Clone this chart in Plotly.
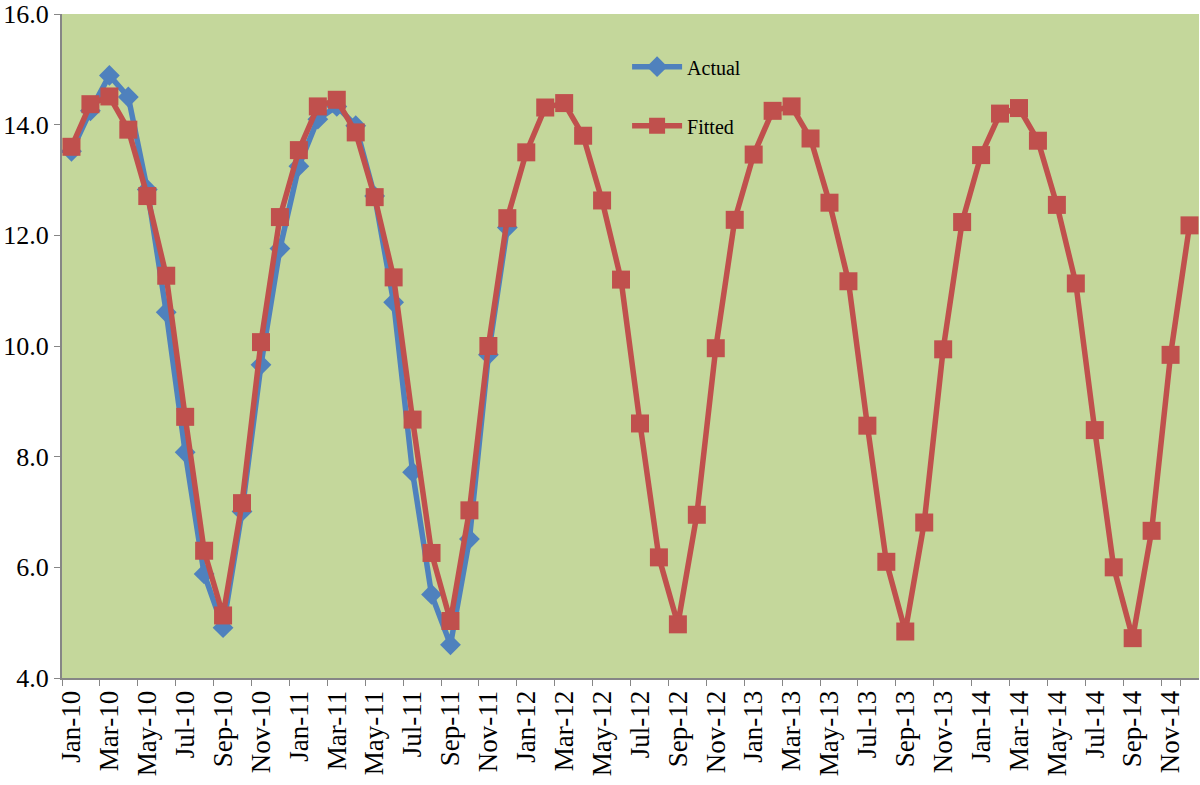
import plotly.graph_objects as go

# Months Jan-10 .. Dec-14
MONTHS = ['Jan', 'Feb', 'Mar', 'Apr', 'May', 'Jun',
          'Jul', 'Aug', 'Sep', 'Oct', 'Nov', 'Dec']
YEARS = ['10', '11', '12', '13', '14']
labels = [f'{m}-{y}' for y in YEARS for m in MONTHS]

actual = [
    13.52, 14.25, 14.89, 14.50, 12.83, 10.61, 8.08, 5.88, 4.91, 7.01, 9.66, 11.76,
    13.25, 14.10, 14.33, 13.98, 12.71, 10.79, 7.72, 5.51, 4.60, 6.51, 9.84, 12.14,
]
fitted = [
    13.60, 14.37, 14.51, 13.91, 12.71, 11.27, 8.72, 6.30, 5.13, 7.16, 10.07, 12.33,
    13.54, 14.33, 14.45, 13.86, 12.69, 11.24, 8.67, 6.26, 5.03, 7.03, 10.00, 12.31,
    13.50, 14.31, 14.39, 13.80, 12.63, 11.20, 8.60, 6.18, 4.97, 6.95, 9.96, 12.28,
    13.46, 14.25, 14.33, 13.75, 12.59, 11.17, 8.56, 6.10, 4.84, 6.81, 9.94, 12.24,
    13.45, 14.20, 14.30, 13.71, 12.55, 11.13, 8.48, 6.00, 4.72, 6.66, 9.84, 12.18,
]

COLORS = {
    'actual': '#4F81BD',
    'fitted': '#C0504D',
    'plot_bg': '#C4D79B',
    'axis': '#868686',
    'text': '#000000',
}
FONT = 'Liberation Serif, Times New Roman, serif'

fig = go.Figure()
fig.add_trace(go.Scatter(
    x=labels[:len(actual)], y=actual, name='Actual', legendgroup='a',
    mode='lines+markers',
    line=dict(color=COLORS['actual'], width=5.5),
    marker=dict(symbol='diamond', size=16, color=COLORS['actual']),
))
fig.add_trace(go.Scatter(
    x=labels, y=fitted, name='Fitted', legendgroup='f',
    mode='lines+markers',
    line=dict(color=COLORS['fitted'], width=5.5),
    marker=dict(symbol='square', size=18, color=COLORS['fitted']),
))

fig.update_layout(
    width=1200, height=785,
    margin=dict(l=62, r=1, t=14, b=107),
    paper_bgcolor='white',
    plot_bgcolor=COLORS['plot_bg'],
    font=dict(family=FONT, color=COLORS['text'], size=26),
    showlegend=True,
    legend=dict(
        x=0.497, y=0.95, xanchor='left', yanchor='top',
        bgcolor='rgba(0,0,0,0)', font=dict(size=20, family=FONT),
        tracegroupgap=30, itemwidth=50,
    ),
    xaxis=dict(
        type='category', automargin=False,
        categoryorder='array', categoryarray=labels,
        range=[-0.5, len(labels) - 0.5],
        tickmode='array', tickvals=labels[::2], ticktext=labels[::2],
        tickson='boundaries', ticks='outside', ticklen=6,
        tickcolor=COLORS['axis'], tickangle=-90,
        showline=True, linecolor=COLORS['axis'], linewidth=2,
        showgrid=False, zeroline=False,
        tickfont=dict(size=27, family=FONT),
    ),
    yaxis=dict(
        automargin=False, ticklabeloverflow='allow',
        range=[4, 16], tickmode='linear', tick0=4, dtick=2,
        tickformat='.1f', ticks='outside', ticklen=6,
        tickcolor=COLORS['axis'],
        showline=True, linecolor=COLORS['axis'], linewidth=2,
        showgrid=False, zeroline=False,
        tickfont=dict(size=26, family=FONT),
    ),
)

# drop the default 8px body margin so the figure fills the window exactly
fig.write_html('out.html', config={'displayModeBar': False},
               post_script="document.body.style.margin='0';")
